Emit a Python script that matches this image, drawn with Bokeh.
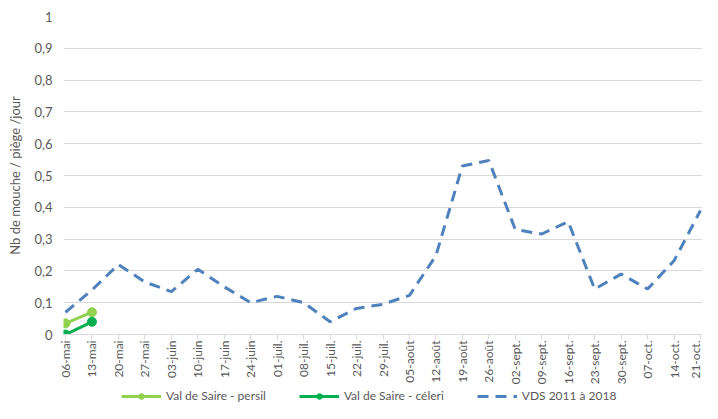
from bokeh.plotting import figure
from bokeh.models import Range1d, FixedTicker, Legend, LegendItem
from bokeh.layouts import column
from bokeh.embed import file_html
from bokeh.resources import INLINE
import math

dates = ["06-mai", "13-mai", "20-mai", "27-mai", "03-juin", "10-juin", "17-juin",
         "24-juin", "01-juil.", "08-juil.", "15-juil.", "22-juil.", "29-juil.",
         "05-août", "12-août", "19-août", "26-août", "02-sept.", "09-sept.",
         "16-sept.", "23-sept.", "30-sept.", "07-oct.", "14-oct.", "21-oct."]
vds = [0.07, 0.14, 0.22, 0.165, 0.135, 0.205, 0.15, 0.10, 0.12, 0.10, 0.04, 0.082,
       0.095, 0.123, 0.248, 0.53, 0.547, 0.33, 0.316, 0.355, 0.143, 0.19, 0.143,
       0.232, 0.39]
persil = [0.035, 0.07]
celeri = [0.0, 0.04]
y_ticks = [0, 0.1, 0.2, 0.3, 0.4, 0.5, 0.6, 0.7, 0.8, 0.9, 1.0]
y_labels = ["0", "0,1", "0,2", "0,3", "0,4", "0,5", "0,6", "0,7", "0,8", "0,9", "1"]
series_names = ["Val de Saire - persil", "Val de Saire - céleri", "VDS 2011 à 2018"]

FONT = "Lato"
GRAY = "#595959"
c_persil = "#92D050"
c_celeri = "#00B050"
c_vds = "#4F81BD"

xs = list(range(len(dates)))

p = figure(width=702, height=387, output_backend="svg", toolbar_location=None,
           x_range=Range1d(-0.076, 24.076), y_range=Range1d(0, 1.0),
           min_border_left=63, min_border_top=16, min_border_right=0,
           min_border_bottom=50)
p.outline_line_color = None

p.xgrid.grid_line_color = None
p.ygrid.grid_line_color = "#D9D9D9"

p.yaxis.ticker = FixedTicker(ticks=y_ticks)
p.yaxis.major_label_overrides = {t: l for t, l in zip(y_ticks, y_labels)}
p.yaxis.axis_line_color = None
p.yaxis.major_tick_line_color = None
p.yaxis.major_tick_out = 0
p.yaxis.major_tick_in = 0
p.yaxis.minor_tick_line_color = None
p.yaxis.major_label_text_font = FONT
p.yaxis.major_label_text_font_size = "13px"
p.yaxis.major_label_text_color = GRAY
p.yaxis.major_label_standoff = 11
p.yaxis.axis_label = "Nb de mouche / piège /jour"
p.yaxis.axis_label_text_font = FONT
p.yaxis.axis_label_text_font_size = "13px"
p.yaxis.axis_label_text_font_style = "normal"
p.yaxis.axis_label_text_color = GRAY
p.yaxis.axis_label_standoff = 8

p.xaxis.ticker = FixedTicker(ticks=xs)
p.xaxis.major_label_overrides = {i: d for i, d in zip(xs, dates)}
p.xaxis.major_label_orientation = math.pi / 2
p.xaxis.axis_line_color = "#D9D9D9"
p.xaxis.major_tick_line_color = "#D9D9D9"
p.xaxis.major_tick_in = 0
p.xaxis.major_tick_out = 5
p.xaxis.minor_tick_line_color = None
p.xaxis.major_label_text_font = FONT
p.xaxis.major_label_text_font_size = "12px"
p.xaxis.major_label_text_color = GRAY
p.xaxis.major_label_standoff = 1

p.line(xs, vds, line_color=c_vds, line_width=3, line_dash="11 7")
p.line(xs[:2], persil, line_color=c_persil, line_width=3)
p.scatter(xs[:2], persil, size=9, fill_color=c_persil, line_color=c_persil)
p.line(xs[:2], celeri, line_color=c_celeri, line_width=3)
p.scatter(xs[:2], celeri, size=9, fill_color=c_celeri, line_color=c_celeri)

# legend strip below the chart: same series, drawn outside its visible range,
# only their legend glyphs show
lg = figure(width=702, height=16, output_backend="svg", toolbar_location=None,
            x_range=Range1d(1000, 1001), y_range=Range1d(1000, 1001),
            x_axis_type=None, y_axis_type=None,
            min_border_left=0, min_border_right=0, min_border_top=0,
            min_border_bottom=0)
lg.outline_line_color = None
lg.xgrid.visible = False
lg.ygrid.visible = False
a1 = lg.line(xs[:2], persil, line_color=c_persil, line_width=3)
a2 = lg.scatter(xs[:2], persil, size=9, fill_color=c_persil, line_color=c_persil)
b1 = lg.line(xs[:2], celeri, line_color=c_celeri, line_width=3)
b2 = lg.scatter(xs[:2], celeri, size=9, fill_color=c_celeri, line_color=c_celeri)
d1 = lg.line(xs, vds, line_color=c_vds, line_width=3, line_dash="11 7")

legend = Legend(items=[
    LegendItem(label=series_names[0], renderers=[a1, a2]),
    LegendItem(label=series_names[1], renderers=[b1, b2]),
    LegendItem(label=series_names[2], renderers=[d1]),
], orientation="horizontal", location=(58, 0))
legend.label_text_font = FONT
legend.label_text_font_size = "12px"
legend.label_text_color = GRAY
legend.border_line_color = None
legend.background_fill_alpha = 0
legend.glyph_width = 40
legend.glyph_height = 14
legend.label_height = 14
legend.spacing = 33
legend.padding = 0
legend.margin = 0
legend.label_standoff = 5
lg.add_layout(legend)

layout = column(p, lg, spacing=0)
open("out.html", "w").write(file_html(layout, INLINE))
